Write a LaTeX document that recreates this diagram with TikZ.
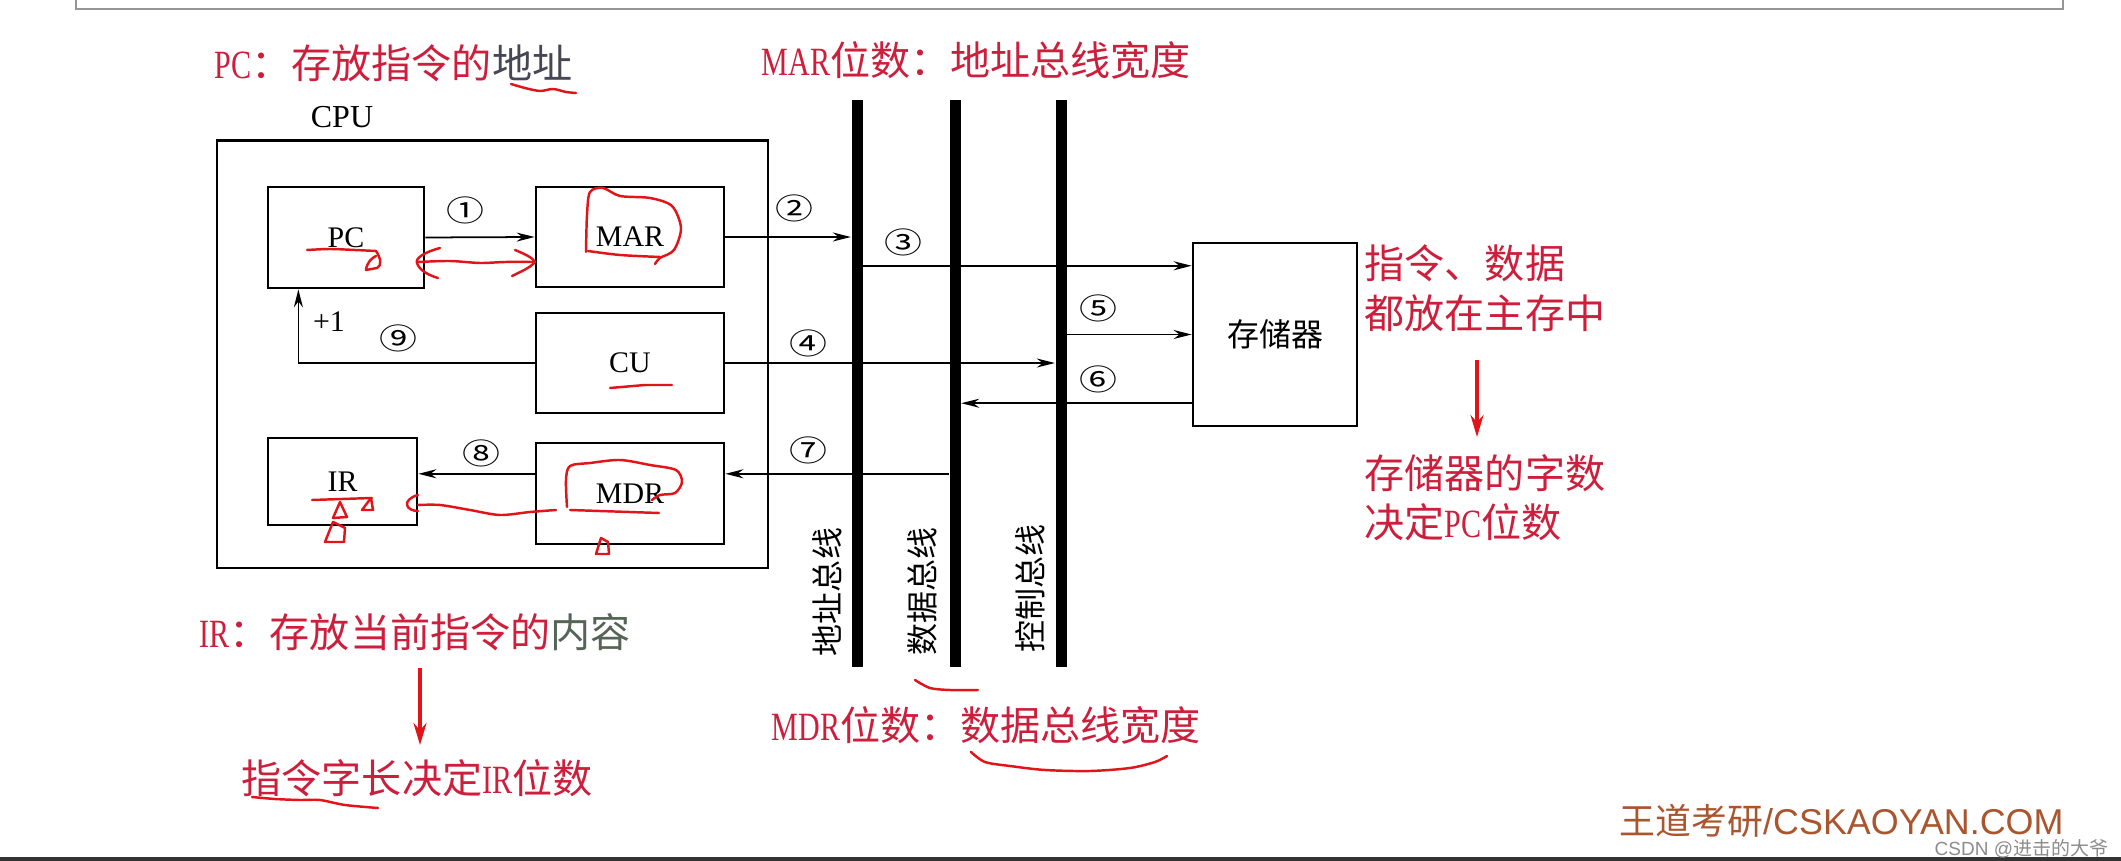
\documentclass[tikz,border=0pt]{standalone}
\usepackage{fontspec}
\setmainfont{Liberation Serif}
\newfontfamily\cjk{Noto Sans CJK SC}
\newfontfamily\condserif[FakeStretch=0.75]{Liberation Serif}
\newfontfamily\cnumfont[FakeStretch=1.3]{Noto Sans CJK SC}
\newfontfamily\wmfont{Liberation Sans}
\usetikzlibrary{arrows.meta,calc}
\definecolor{redtext}{RGB}{205,30,60}
\definecolor{redpen}{RGB}{225,20,25}
\definecolor{addrgray}{RGB}{70,70,85}
\definecolor{contgray}{RGB}{85,100,85}
\definecolor{wmbrown}{RGB}{170,85,45}
\definecolor{framegray}{RGB}{150,150,150}
\begin{document}
\begin{tikzpicture}[x=0.01cm,y=-0.01cm,
  box/.style={draw,line width=0.75pt,inner sep=0,font=\fontsize{8.5pt}{10pt}\selectfont},
  arr/.style={line width=0.5pt,-{Stealth[length=1.8mm,width=0.9mm]}},
  bus/.style={fill=black,inner sep=0,minimum width=1.1mm,minimum height=56.7mm},
  num/.style={font=\cnumfont\fontsize{8.3pt}{10pt}\selectfont,inner sep=0},
  lbl/.style={font=\fontsize{8.5pt}{10pt}\selectfont,inner sep=0},
  redtxt/.style={text=redtext,anchor=west,inner sep=0,font=\cjk\fontsize{11.4pt}{13pt}\selectfont},
  pen/.style={draw=redpen,line width=0.7pt,line cap=round,line join=round},
  redarr/.style={draw=redpen,line width=0.9pt,-{Stealth[length=2.2mm,width=1.3mm]}},
  buslbl/.style={font=\cjk\fontsize{9.1pt}{10pt}\selectfont,rotate=90,inner sep=0}]
\useasboundingbox (0,0) rectangle (2121,861);
\fill[white] (0,0) rectangle (2121,861);
% frame remnants
\draw[framegray,line width=0.6pt] (76,-5) -- (76,9) -- (2063,9) -- (2063,-5);
\draw[black!80,line width=0.9pt] (0,859) -- (2121,859);

% CPU
\node[box,minimum width=55.1mm,minimum height=42.7mm] (CPU) at (492.5,354.4) {};
\node[lbl,font=\fontsize{9.1pt}{10pt}\selectfont] (cpulbl) at (342,117) {CPU};
\node[box,minimum width=15.6mm,minimum height=10.1mm] (PC) at (346,237.5) {PC};
\node[box,minimum width=18.8mm,minimum height=10mm] (MAR) at (630,237) {MAR};
\node[box,minimum width=18.8mm,minimum height=10mm] (CU) at (630,363) {CU};
\node[box,minimum width=14.9mm,minimum height=8.7mm] (IR) at (342.5,481.5) {IR};
\node[box,minimum width=18.8mm,minimum height=10.1mm] (MDR) at (630,493.5) {MDR};

% buses
\node[bus] (AB) at (857,383.5) {};
\node[bus] (DB) at (955,383.5) {};
\node[bus] (CB) at (1061,383.5) {};
\node[buslbl] (ABl) at (827,592) {地址总线};
\node[buslbl] (DBl) at (922,591) {数据总线};
\node[buslbl] (CBl) at (1030,588) {控制总线};

% memory
\node[box,minimum width=16.4mm,minimum height=18.3mm,font=\cjk\fontsize{9.1pt}{10pt}\selectfont] (mem) at (1275,334.5) {存储器};

% helper coordinates
\coordinate (m3) at ($(mem.north west)!0.13!(mem.south west)$);
\coordinate (m6) at ($(mem.north west)!0.87!(mem.south west)$);
\coordinate (m7) at ($(MDR.north east)!0.31!(MDR.south east)$);
\coordinate (m9) at ($(PC.south west)!0.2!(PC.south east)$);

% connectors
\draw[arr] (PC.east) -- (MAR.west);
\draw[arr] (MAR.east) -- (MAR.east -| AB.west);
\draw[arr] (m3 -| AB.east) -- (m3);
\draw[arr] (CU.east) -- (CU.east -| CB.west);
\draw[arr] (mem.west -| CB.east) -- (mem.west);
\draw[arr] (m6) -- (m6 -| DB.east);
\draw[arr] (m7 -| DB.west) -- (m7);
\draw[arr] (m7 -| MDR.west) -- (m7 -| IR.east);
\draw[arr] (CU.west) -| (m9);

% step numbers
\node[num] (n1) at (465,210) {①};
\node[num] (n2) at (794,208) {②};
\node[num] (n3) at (903,242) {③};
\node[num] (n4) at (808,343) {④};
\node[num] (n5) at (1098,308) {⑤};
\node[num] (n6) at (1098,379) {⑥};
\node[num] (n7) at (808,450) {⑦};
\node[num] (n8) at (481,453) {⑧};
\node[num] (n9) at (398,338) {⑨};
\node[lbl] (plus1) at (329,322) {+1};

% red annotations
\node[redtxt] (tPC) at (214,63) {{\condserif PC}：存放指令的{\color{addrgray}地址}};
\node[redtxt] (tMAR) at (761,60) {{\condserif MAR}位数：地址总线宽度};
\node[redtxt] (tA1) at (1364,263) {指令、数据};
\node[redtxt] (tA2) at (1364,313) {都放在主存中};
\node[redtxt] (tB1) at (1364,473) {存储器的字数};
\node[redtxt] (tB2) at (1364,522) {决定{\condserif PC}位数};
\node[redtxt] (tIR) at (199,632) {{\condserif IR}：存放当前指令的{\color{contgray}内容}};
\node[redtxt] (tIRlen) at (241,778) {指令字长决定{\condserif IR}位数};
\node[redtxt] (tMDR) at (771,725) {{\condserif MDR}位数：数据总线宽度};

\coordinate (ra1) at (1477,360);
\coordinate (ra2) at (1477,437);
\coordinate (rb1) at (420,668);
\coordinate (rb2) at (420,745);
\draw[redarr] (ra1) -- (ra2);
\draw[redarr] (rb1) -- (rb2);

% hand-drawn scribbles
\draw[pen] plot[smooth] coordinates {(511,84) (525,88) (540,91) (553,89) (566,92) (576,93)};
\draw[pen] plot[smooth] coordinates {(586,252) (587,215) (590,192) (603,188) (620,196) (650,198) (672,206) (681,228) (674,250) (660,258) (655,264)};
\draw[pen] plot[smooth] coordinates {(588,251) (620,255) (660,257)};
\draw[pen] plot[smooth] coordinates {(418,262) (450,261) (480,263) (505,262) (533,262)};
\draw[pen] (440,248) .. controls (425,252) and (415,258) .. (417,263) .. controls (419,270) and (428,275) .. (438,278);
\draw[pen] (515,250) .. controls (525,254) and (533,258) .. (535,262) .. controls (530,268) and (520,272) .. (512,276);
\draw[pen] plot[smooth] coordinates {(307,250) (330,249) (355,250) (376,251)};
\draw[pen] (376,251) .. controls (381,258) and (382,266) .. (377,268) -- (366,270) .. controls (367,262) and (372,258) .. (376,256);
\draw[pen] (610,388) -- (645,385) -- (672,385);
\draw[pen] plot[smooth] coordinates {(567,507) (566,480) (570,466) (590,463) (620,460) (650,465) (676,470) (682,482) (675,493) (660,495) (652,500)};
\draw[pen] (570,510) -- (659,513);
\draw[pen] plot[smooth] coordinates {(556,510) (530,512) (500,515) (470,510) (440,505) (418,505)};
\draw[pen] (418,495) .. controls (410,497) and (406,502) .. (407,505) .. controls (408,509) and (413,511) .. (418,511);
\draw[pen] (601,538) -- (596,554) -- (609,554) -- (608,542) -- cycle;
\draw[pen] (312,500) -- (372,498);
\draw[pen] (340,502) -- (333,518) -- (347,517) -- cycle;
\draw[pen] (371,498) -- (362,510) -- (373,510) -- cycle;
\draw[pen] (333,522) -- (325,542) -- (344,542) -- (345,528) -- cycle;
\draw[pen] plot[smooth] coordinates {(252,797) (275,799) (300,800) (320,800) (345,805) (378,808)};
\draw[pen] plot[smooth] coordinates {(971,752) (985,762) (1010,766) (1045,770) (1090,771) (1130,768) (1155,762) (1167,756)};
\draw[pen] plot[smooth] coordinates {(915,680) (930,688) (950,690) (978,690)};

% watermark
\node[anchor=west,inner sep=0,text=wmbrown,font=\wmfont\fontsize{10.2pt}{12pt}\selectfont] (wm) at (1619,821) {{\cjk 王道考研}/CSKAOYAN.COM};
\node[anchor=west,inner sep=0,text=black!45,font=\wmfont\fontsize{5.4pt}{6pt}\selectfont] (csdn) at (1934,849) {CSDN @{\cjk 进击的大爷}};
\end{tikzpicture}
\end{document}
